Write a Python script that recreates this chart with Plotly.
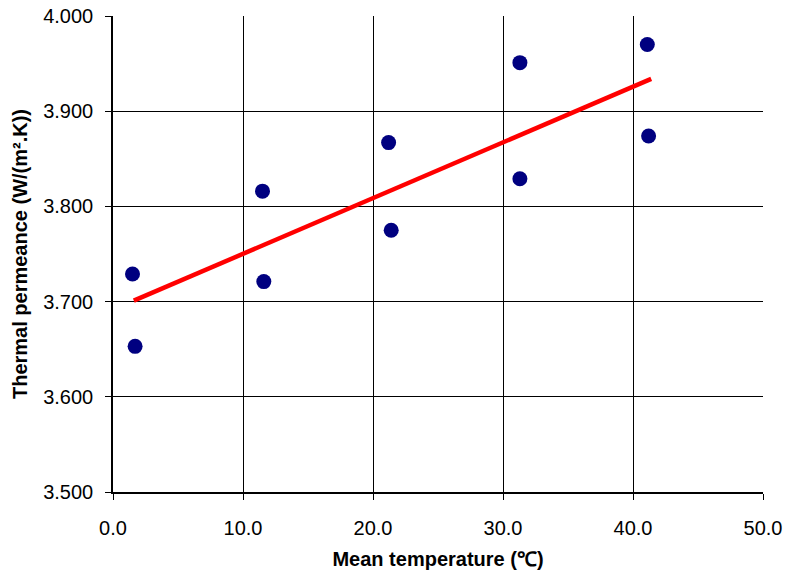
import plotly.graph_objects as go

temp = [1.5, 1.7, 11.5, 11.6, 21.2, 21.4, 31.3, 31.3, 41.1, 41.2]
perm = [3.729, 3.653, 3.816, 3.721, 3.867, 3.775, 3.951, 3.829, 3.970, 3.874]
trend_x = [1.6, 41.4]
trend_y = [3.701, 3.934]

fig = go.Figure()
fig.add_trace(go.Scatter(x=trend_x, y=trend_y, mode="lines",
                         line=dict(color="#ff0000", width=4.5), showlegend=False))
fig.add_trace(go.Scatter(x=temp, y=perm, mode="markers",
                         marker=dict(color="#000080", size=15), showlegend=False))

axis_common = dict(showgrid=True, gridcolor="#000000", gridwidth=1,
                   showline=True, linecolor="#000000", linewidth=1.5,
                   ticks="outside", ticklen=6, tickcolor="#000000",
                   tickfont=dict(family="Liberation Sans, Arial", size=20, color="#000"),
                   zeroline=False, automargin=False)

fig.update_layout(
    width=785, height=576,
    margin=dict(l=113, r=22, t=16, b=84),
    paper_bgcolor="white", plot_bgcolor="white",
    font=dict(family="Liberation Sans, Arial", color="#000"),
    xaxis=dict(range=[0, 50], dtick=10, tickformat=".1f", ticklabelstandoff=11,
               title=dict(text="<b>Mean temperature (℃)</b>", font=dict(size=20), standoff=14),
               **axis_common),
    yaxis=dict(range=[3.5, 4.0], dtick=0.1, tickformat=".3f", ticklabelstandoff=8,
               title=dict(text="<b>Thermal permeance (W/(m².K))</b>", font=dict(size=20), standoff=10),
               **axis_common),
)
fig.write_html("out.html", config={"displayModeBar": False},
               post_script="document.body.style.margin='0';document.body.style.padding='0';")
